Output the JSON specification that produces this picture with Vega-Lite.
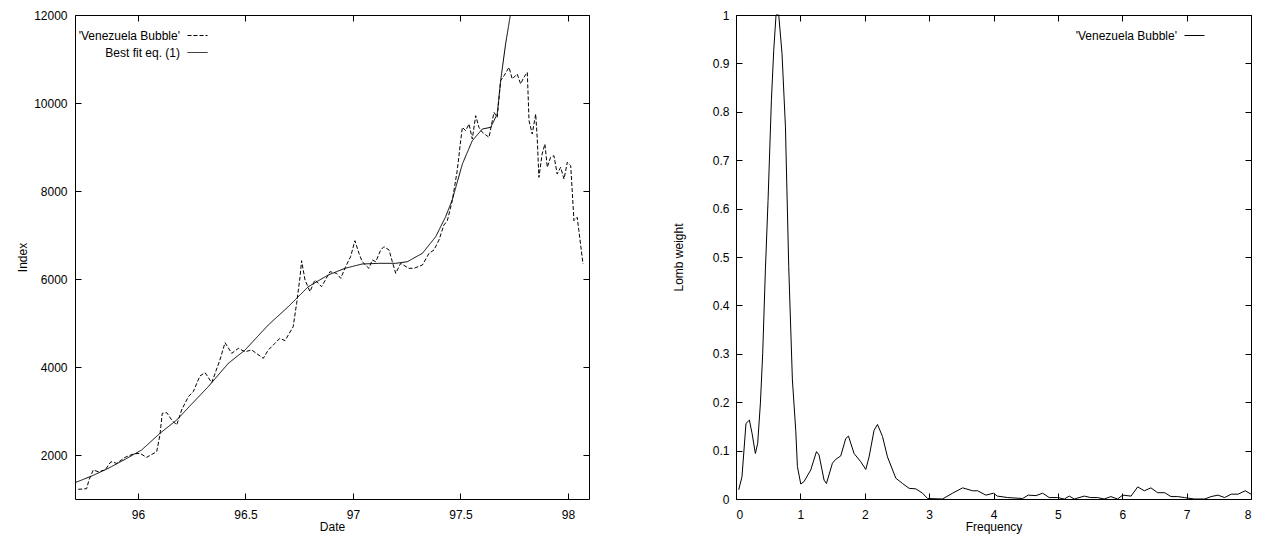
{
  "$schema": "https://vega.github.io/schema/vega-lite/v6.json",
  "padding": {"left": 15, "top": 8, "right": 10, "bottom": 7},
  "background": "white",
  "datasets": {
    "bubble": [
      {"date": 95.722, "index": 1220}, {"date": 95.761, "index": 1234}, {"date": 95.772, "index": 1432},
      {"date": 95.792, "index": 1659}, {"date": 95.815, "index": 1620}, {"date": 95.847, "index": 1659},
      {"date": 95.874, "index": 1848}, {"date": 95.901, "index": 1811}, {"date": 95.94, "index": 1947},
      {"date": 95.978, "index": 2023}, {"date": 96.009, "index": 2038}, {"date": 96.04, "index": 1947},
      {"date": 96.087, "index": 2075}, {"date": 96.102, "index": 2455}, {"date": 96.113, "index": 2947},
      {"date": 96.134, "index": 2962}, {"date": 96.157, "index": 2795}, {"date": 96.18, "index": 2682},
      {"date": 96.203, "index": 3023}, {"date": 96.234, "index": 3325}, {"date": 96.257, "index": 3439},
      {"date": 96.288, "index": 3795}, {"date": 96.312, "index": 3871}, {"date": 96.343, "index": 3644},
      {"date": 96.381, "index": 4159}, {"date": 96.405, "index": 4552}, {"date": 96.436, "index": 4311},
      {"date": 96.467, "index": 4424}, {"date": 96.498, "index": 4348}, {"date": 96.529, "index": 4386},
      {"date": 96.583, "index": 4197}, {"date": 96.606, "index": 4386}, {"date": 96.637, "index": 4538},
      {"date": 96.66, "index": 4652}, {"date": 96.684, "index": 4599}, {"date": 96.722, "index": 4917},
      {"date": 96.738, "index": 5448}, {"date": 96.754, "index": 6052}, {"date": 96.761, "index": 6416},
      {"date": 96.777, "index": 5977}, {"date": 96.8, "index": 5712}, {"date": 96.823, "index": 5977},
      {"date": 96.854, "index": 5825}, {"date": 96.893, "index": 6166}, {"date": 96.924, "index": 6129},
      {"date": 96.943, "index": 6015}, {"date": 96.966, "index": 6280}, {"date": 96.989, "index": 6507},
      {"date": 97.009, "index": 6870}, {"date": 97.028, "index": 6584}, {"date": 97.043, "index": 6393},
      {"date": 97.074, "index": 6243}, {"date": 97.09, "index": 6432}, {"date": 97.106, "index": 6393},
      {"date": 97.129, "index": 6659}, {"date": 97.144, "index": 6734}, {"date": 97.168, "index": 6659},
      {"date": 97.183, "index": 6393}, {"date": 97.199, "index": 6129}, {"date": 97.222, "index": 6356},
      {"date": 97.26, "index": 6243}, {"date": 97.284, "index": 6243}, {"date": 97.323, "index": 6318},
      {"date": 97.354, "index": 6584}, {"date": 97.377, "index": 6659}, {"date": 97.4, "index": 6886},
      {"date": 97.423, "index": 7227}, {"date": 97.439, "index": 7325}, {"date": 97.462, "index": 7780},
      {"date": 97.485, "index": 8461}, {"date": 97.501, "index": 9143}, {"date": 97.509, "index": 9447},
      {"date": 97.524, "index": 9370}, {"date": 97.54, "index": 9523}, {"date": 97.555, "index": 9182},
      {"date": 97.571, "index": 9712}, {"date": 97.586, "index": 9447}, {"date": 97.602, "index": 9333},
      {"date": 97.633, "index": 9220}, {"date": 97.656, "index": 9788}, {"date": 97.671, "index": 9674},
      {"date": 97.687, "index": 10507}, {"date": 97.703, "index": 10621}, {"date": 97.726, "index": 10811},
      {"date": 97.741, "index": 10545}, {"date": 97.764, "index": 10659}, {"date": 97.78, "index": 10432},
      {"date": 97.795, "index": 10584}, {"date": 97.811, "index": 10697}, {"date": 97.819, "index": 9598},
      {"date": 97.834, "index": 9295}, {"date": 97.85, "index": 9750}, {"date": 97.857, "index": 9220},
      {"date": 97.865, "index": 8311}, {"date": 97.88, "index": 8841}, {"date": 97.893, "index": 9068},
      {"date": 97.904, "index": 8538}, {"date": 97.919, "index": 8765}, {"date": 97.935, "index": 8803},
      {"date": 97.95, "index": 8386}, {"date": 97.966, "index": 8538}, {"date": 97.982, "index": 8272},
      {"date": 97.997, "index": 8652}, {"date": 98.013, "index": 8575}, {"date": 98.028, "index": 7325},
      {"date": 98.043, "index": 7402}, {"date": 98.051, "index": 7098}, {"date": 98.07, "index": 6341}
    ],
    "fit": [
      {"date": 95.707, "index": 1371}, {"date": 95.785, "index": 1523}, {"date": 95.862, "index": 1697},
      {"date": 95.94, "index": 1902}, {"date": 96.017, "index": 2114}, {"date": 96.102, "index": 2492},
      {"date": 96.18, "index": 2795}, {"date": 96.25, "index": 3159}, {"date": 96.327, "index": 3553},
      {"date": 96.42, "index": 4083}, {"date": 96.498, "index": 4386}, {"date": 96.606, "index": 4955},
      {"date": 96.699, "index": 5370}, {"date": 96.792, "index": 5825}, {"date": 96.885, "index": 6091},
      {"date": 96.963, "index": 6243}, {"date": 97.043, "index": 6341}, {"date": 97.121, "index": 6356},
      {"date": 97.199, "index": 6356}, {"date": 97.253, "index": 6393}, {"date": 97.323, "index": 6584},
      {"date": 97.385, "index": 6962}, {"date": 97.431, "index": 7416}, {"date": 97.462, "index": 7800},
      {"date": 97.509, "index": 8614}, {"date": 97.555, "index": 9143}, {"date": 97.602, "index": 9409},
      {"date": 97.641, "index": 9447}, {"date": 97.671, "index": 9750}, {"date": 97.687, "index": 10507},
      {"date": 97.71, "index": 11341}, {"date": 97.733, "index": 12023}, {"date": 97.745, "index": 12400}
    ],
    "lomb": [
      {"freq": 0.042, "weight": 0.019}, {"freq": 0.093, "weight": 0.046}, {"freq": 0.155, "weight": 0.156},
      {"freq": 0.208, "weight": 0.163}, {"freq": 0.249, "weight": 0.136}, {"freq": 0.301, "weight": 0.094},
      {"freq": 0.337, "weight": 0.115}, {"freq": 0.379, "weight": 0.198}, {"freq": 0.415, "weight": 0.301},
      {"freq": 0.457, "weight": 0.475}, {"freq": 0.498, "weight": 0.617}, {"freq": 0.55, "weight": 0.824},
      {"freq": 0.586, "weight": 0.927}, {"freq": 0.622, "weight": 1.0}, {"freq": 0.664, "weight": 1.0},
      {"freq": 0.715, "weight": 0.92}, {"freq": 0.768, "weight": 0.769}, {"freq": 0.819, "weight": 0.48},
      {"freq": 0.876, "weight": 0.246}, {"freq": 0.928, "weight": 0.142}, {"freq": 0.954, "weight": 0.067},
      {"freq": 1.006, "weight": 0.031}, {"freq": 1.057, "weight": 0.036}, {"freq": 1.161, "weight": 0.06},
      {"freq": 1.25, "weight": 0.098}, {"freq": 1.29, "weight": 0.091}, {"freq": 1.368, "weight": 0.039},
      {"freq": 1.405, "weight": 0.032}, {"freq": 1.498, "weight": 0.074}, {"freq": 1.55, "weight": 0.082},
      {"freq": 1.627, "weight": 0.089}, {"freq": 1.705, "weight": 0.125}, {"freq": 1.747, "weight": 0.13},
      {"freq": 1.834, "weight": 0.094}, {"freq": 1.938, "weight": 0.077}, {"freq": 2.016, "weight": 0.061},
      {"freq": 2.067, "weight": 0.087}, {"freq": 2.145, "weight": 0.142}, {"freq": 2.198, "weight": 0.154},
      {"freq": 2.276, "weight": 0.129}, {"freq": 2.353, "weight": 0.087}, {"freq": 2.483, "weight": 0.043},
      {"freq": 2.587, "weight": 0.032}, {"freq": 2.69, "weight": 0.022}, {"freq": 2.793, "weight": 0.021},
      {"freq": 2.898, "weight": 0.012}, {"freq": 2.975, "weight": 0.001}, {"freq": 3.208, "weight": 0},
      {"freq": 3.364, "weight": 0.012}, {"freq": 3.52, "weight": 0.023}, {"freq": 3.675, "weight": 0.017},
      {"freq": 3.753, "weight": 0.017}, {"freq": 3.882, "weight": 0.008}, {"freq": 4.0, "weight": 0.012},
      {"freq": 4.06, "weight": 0.006}, {"freq": 4.22, "weight": 0.003}, {"freq": 4.452, "weight": 0.001},
      {"freq": 4.54, "weight": 0.008}, {"freq": 4.659, "weight": 0.007}, {"freq": 4.763, "weight": 0.012},
      {"freq": 4.866, "weight": 0.003}, {"freq": 4.995, "weight": 0.003}, {"freq": 5.1, "weight": 0},
      {"freq": 5.177, "weight": 0.006}, {"freq": 5.255, "weight": 0}, {"freq": 5.41, "weight": 0.006},
      {"freq": 5.51, "weight": 0.003}, {"freq": 5.616, "weight": 0.003}, {"freq": 5.72, "weight": 0},
      {"freq": 5.823, "weight": 0.005}, {"freq": 5.927, "weight": 0}, {"freq": 6.006, "weight": 0.008},
      {"freq": 6.137, "weight": 0.006}, {"freq": 6.24, "weight": 0.025}, {"freq": 6.342, "weight": 0.017},
      {"freq": 6.446, "weight": 0.023}, {"freq": 6.55, "weight": 0.013}, {"freq": 6.66, "weight": 0.013},
      {"freq": 6.757, "weight": 0.005}, {"freq": 6.86, "weight": 0.005}, {"freq": 6.964, "weight": 0.003},
      {"freq": 7.12, "weight": 0}, {"freq": 7.28, "weight": 0}, {"freq": 7.38, "weight": 0.005},
      {"freq": 7.486, "weight": 0.008}, {"freq": 7.59, "weight": 0.003}, {"freq": 7.693, "weight": 0.01},
      {"freq": 7.8, "weight": 0.01}, {"freq": 7.91, "weight": 0.017}, {"freq": 8.0, "weight": 0.01}
    ]
  },
  "spacing": 147,
  "bounds": "flush",
  "hconcat": [
    {
      "width": 514,
      "height": 484,
      "layer": [
        {
          "data": {"name": "bubble"},
          "transform": [{"calculate": "\"'Venezuela Bubble'\"", "as": "series"}],
          "mark": {"type": "line", "color": "black", "strokeWidth": 1, "clip": true},
          "encoding": {
            "x": {
              "field": "date", "type": "quantitative", "title": "Date",
              "scale": {"domain": [95.707, 98.098], "nice": false, "zero": false},
              "axis": {"orient": "bottom", "values": [96, 96.5, 97, 97.5, 98], "format": ".1~f", "labelPadding": 16, "titleY": 22}
            },
            "y": {
              "field": "index", "type": "quantitative", "title": "Index",
              "scale": {"domain": [1000, 12000], "nice": false, "zero": false},
              "axis": {"orient": "left", "values": [2000, 4000, 6000, 8000, 10000, 12000], "format": "d", "labelPadding": 14, "titleX": -46}
            },
            "strokeDash": {
              "field": "series", "type": "nominal",
              "scale": {"domain": ["'Venezuela Bubble'", "Best fit eq. (1)"], "range": [[4, 2], [1, 0]]},
              "legend": {"orient": "none", "legendX": 112, "legendY": 10}
            }
          }
        },
        {
          "data": {"name": "fit"},
          "transform": [{"calculate": "'Best fit eq. (1)'", "as": "series"}],
          "mark": {"type": "line", "color": "black", "strokeWidth": 1, "clip": true},
          "encoding": {
            "x": {
              "field": "date", "type": "quantitative",
              "axis": {"orient": "top", "values": [96, 96.5, 97, 97.5, 98], "labels": false, "title": null}
            },
            "y": {
              "field": "index", "type": "quantitative",
              "axis": {"orient": "right", "values": [2000, 4000, 6000, 8000, 10000, 12000], "labels": false, "title": null}
            },
            "strokeDash": {"field": "series", "type": "nominal"}
          }
        }
      ],
      "resolve": {"axis": {"x": "independent", "y": "independent"}}
    },
    {
      "width": 515,
      "height": 484,
      "data": {"name": "lomb"},
      "transform": [{"calculate": "\"'Venezuela Bubble'\"", "as": "curve"}],
      "layer": [
        {
          "mark": {"type": "line", "color": "black", "strokeWidth": 1},
          "encoding": {
            "x": {
              "field": "freq", "type": "quantitative", "title": "Frequency",
              "scale": {"domain": [0, 8], "nice": false},
              "axis": {"orient": "bottom", "values": [0, 1, 2, 3, 4, 5, 6, 7, 8], "format": "d", "labelPadding": 16, "titleY": 22}
            },
            "y": {
              "field": "weight", "type": "quantitative", "title": "Lomb weight",
              "scale": {"domain": [0, 1], "nice": false},
              "axis": {"orient": "left", "values": [0, 0.1, 0.2, 0.3, 0.4, 0.5, 0.6, 0.7, 0.8, 0.9, 1], "format": ".1~f", "labelPadding": 13, "titleX": -51}
            },
            "color": {
              "field": "curve", "type": "nominal",
              "scale": {"range": ["black"]},
              "legend": {"orient": "none", "legendX": 448, "legendY": 10}
            }
          }
        },
        {
          "mark": {"type": "line", "opacity": 0},
          "encoding": {
            "x": {
              "field": "freq", "type": "quantitative",
              "axis": {"orient": "top", "values": [0, 1, 2, 3, 4, 5, 6, 7, 8], "labels": false, "title": null}
            },
            "y": {
              "field": "weight", "type": "quantitative",
              "axis": {"orient": "right", "values": [0, 0.1, 0.2, 0.3, 0.4, 0.5, 0.6, 0.7, 0.8, 0.9, 1], "labels": false, "title": null}
            }
          }
        }
      ],
      "resolve": {"axis": {"x": "independent", "y": "independent"}}
    }
  ],
  "resolve": {"scale": {"strokeDash": "independent", "color": "independent"}, "legend": {"strokeDash": "independent", "color": "independent"}},
  "config": {
    "view": {"stroke": "black", "strokeWidth": 1},
    "axis": {
      "domain": false, "grid": false,
      "tickColor": "black", "tickSize": -6, "tickWidth": 1,
      "labelFont": "Liberation Sans", "labelFontSize": 12, "labelColor": "black",
      "titleFont": "Liberation Sans", "titleFontSize": 12, "titleFontWeight": "normal", "titleColor": "black"
    },
    "legend": {
      "title": null, "padding": 0,
      "symbolType": "stroke", "symbolSize": 400, "symbolStrokeWidth": 1, "symbolStrokeColor": "black",
      "labelFont": "Liberation Sans", "labelFontSize": 12, "labelColor": "black",
      "labelAlign": "right", "labelOffset": -28, "rowPadding": -3
    }
  }
}
